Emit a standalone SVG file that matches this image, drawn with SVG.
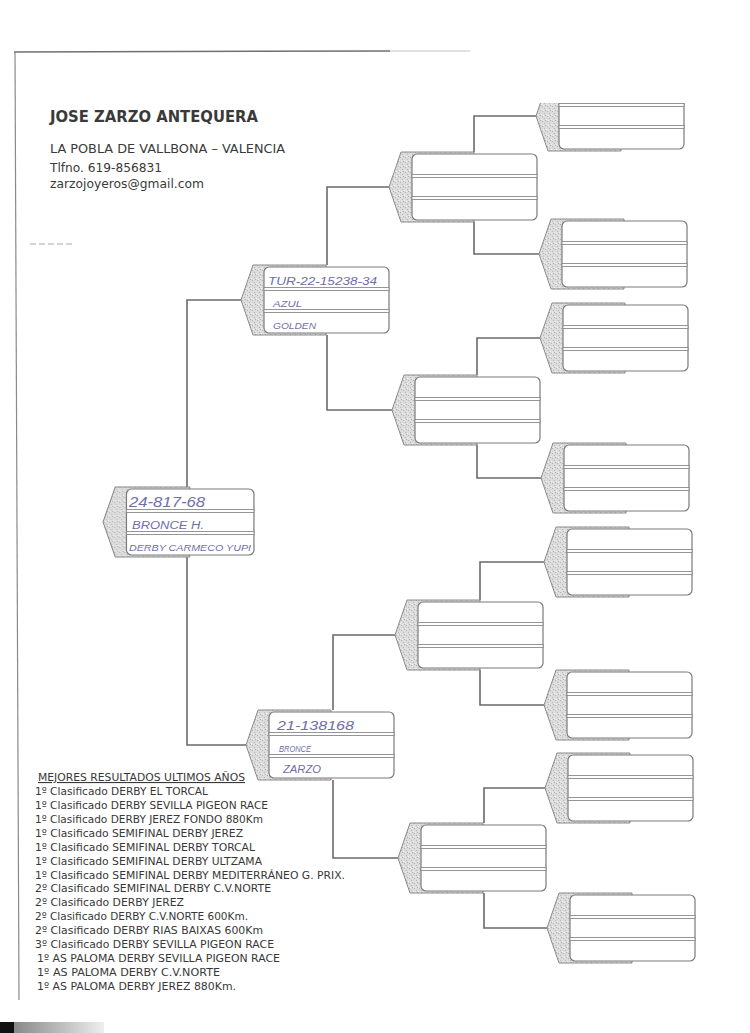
<svg xmlns="http://www.w3.org/2000/svg" xmlns:xlink="http://www.w3.org/1999/xlink" width="750" height="1033" viewBox="0 0 750 1033">
<style>
.conn{fill:none;stroke:#6a6a6a;stroke-width:1.6}
.back{stroke:#8a8a8a;stroke-width:1}
.box{fill:#fff;stroke:#7a7a7a;stroke-width:1.2}
.div{fill:#fff;stroke:#8a8a8a;stroke-width:0.9}
.hd{font-family:"DejaVu Sans","Liberation Sans",sans-serif;fill:#3a3a3a}
.ls{font-family:"DejaVu Sans","Liberation Sans",sans-serif;fill:#383838;font-size:11px}
.hw{font-family:"Liberation Sans",Arial,sans-serif;font-style:italic;fill:#6e6ea8}
</style>
<defs>
<pattern id="stip" width="5" height="5" patternUnits="userSpaceOnUse">
<rect width="5" height="5" fill="#dcdcdc"/>
<rect x="1" y="0" width="1" height="1" fill="#b4b4b4"/>
<rect x="3" y="2" width="1" height="1" fill="#b8b8b8"/>
<rect x="0" y="3" width="1" height="1" fill="#f0f0f0"/>
<rect x="4" y="4" width="1" height="1" fill="#b0b0b0"/>
<rect x="2" y="4" width="1" height="1" fill="#eeeeee"/>
</pattern>
<g id="nd">
<path class="back" fill="url(#stip)" d="M0,0 L12,-35 H85 V35 H12 Z"/>
<rect class="box" x="23" y="-33" width="125" height="66" rx="5"/>
<rect class="div" x="23" y="-12.5" width="125" height="3"/>
<rect class="div" x="23" y="9.5" width="125" height="3"/>
</g>
<clipPath id="clipTop"><rect x="480" y="103" width="270" height="100"/></clipPath>
<linearGradient id="bar" x1="0" x2="1" y1="0" y2="0">
<stop offset="0" stop-color="#888"/><stop offset="1" stop-color="#eee"/>
</linearGradient>
</defs>
<rect width="750" height="1033" fill="#fff"/>

<g id="frame">
<line x1="14" y1="52" x2="390" y2="51" stroke="#707070" stroke-width="1.5"/>
<line x1="390" y1="51" x2="470" y2="51" stroke="#c4c4c4" stroke-width="1"/>
<line x1="15" y1="52" x2="19" y2="1000" stroke="#8a8a8a" stroke-width="1.2"/>
<line x1="30" y1="244" x2="75" y2="244" stroke="#a8a8a8" stroke-width="1" stroke-dasharray="6,3"/>
<rect x="0" y="1022" width="14" height="11" fill="#111"/>
<rect x="14" y="1022" width="90" height="11" fill="url(#bar)"/>
</g>

<g id="header">
<text class="hd" x="50" y="122" font-size="15" font-weight="bold" textLength="208" lengthAdjust="spacingAndGlyphs">JOSE ZARZO ANTEQUERA</text>
<text class="hd" x="50" y="153" font-size="12" textLength="235" lengthAdjust="spacingAndGlyphs">LA POBLA DE VALLBONA – VALENCIA</text>
<text class="hd" x="50" y="172" font-size="12" textLength="112" lengthAdjust="spacingAndGlyphs">Tlfno. 619-856831</text>
<text class="hd" x="50" y="188" font-size="12" textLength="154" lengthAdjust="spacingAndGlyphs">zarzojoyeros@gmail.com</text>
</g>

<g id="connectors">
<path class="conn" d="M241,300 H187 V487"/>
<path class="conn" d="M187,557 V745 H246"/>
<path class="conn" d="M389,187 H327 V265"/>
<path class="conn" d="M327,335 V410 H392"/>
<path class="conn" d="M395,635 H333 V710"/>
<path class="conn" d="M333,780 V858 H398"/>
<path class="conn" d="M536,116 H474 V152"/>
<path class="conn" d="M474,222 V254 H539"/>
<path class="conn" d="M540,338 H477 V375"/>
<path class="conn" d="M477,445 V478 H541"/>
<path class="conn" d="M544,562 H480 V600"/>
<path class="conn" d="M480,670 V705 H544"/>
<path class="conn" d="M545,788 H484 V823"/>
<path class="conn" d="M484,893 V928 H547"/>
</g>

<g id="n1"><use xlink:href="#nd" href="#nd" transform="translate(103,522) scale(1.02,1)"/>
<text class="hw" x="129" y="507" font-size="14" textLength="76" lengthAdjust="spacingAndGlyphs">24-817-68</text>
<text class="hw" x="132" y="529" font-size="10" textLength="72" lengthAdjust="spacingAndGlyphs">BRONCE H.</text>
<text class="hw" x="129" y="551" font-size="9" textLength="122" lengthAdjust="spacingAndGlyphs">DERBY CARMECO YUPI</text>
</g>
<g id="n2"><use xlink:href="#nd" href="#nd" transform="translate(241,300)"/>
<text class="hw" x="268" y="285" font-size="11" textLength="109" lengthAdjust="spacingAndGlyphs">TUR-22-15238-34</text>
<text class="hw" x="273" y="307" font-size="9" textLength="29" lengthAdjust="spacingAndGlyphs">AZUL</text>
<text class="hw" x="273" y="329" font-size="9.5" textLength="43" lengthAdjust="spacingAndGlyphs">GOLDEN</text>
</g>
<g id="n3"><use xlink:href="#nd" href="#nd" transform="translate(246,745)"/>
<text class="hw" x="277" y="730" font-size="12" textLength="77" lengthAdjust="spacingAndGlyphs">21-138168</text>
<text class="hw" x="279" y="752" font-size="9" textLength="32" lengthAdjust="spacingAndGlyphs">BRONCE</text>
<text class="hw" x="283" y="773" font-size="10" textLength="38" lengthAdjust="spacingAndGlyphs">ZARZO</text>
</g>
<g id="n4"><use xlink:href="#nd" href="#nd" transform="translate(389,187)"/></g>
<g id="n5"><use xlink:href="#nd" href="#nd" transform="translate(392,410)"/></g>
<g id="n6"><use xlink:href="#nd" href="#nd" transform="translate(395,635)"/></g>
<g id="n7"><use xlink:href="#nd" href="#nd" transform="translate(398,858)"/></g>
<g id="n8" clip-path="url(#clipTop)"><use xlink:href="#nd" href="#nd" transform="translate(536,116)"/></g>
<g id="n9"><use xlink:href="#nd" href="#nd" transform="translate(539,254)"/></g>
<g id="n10"><use xlink:href="#nd" href="#nd" transform="translate(540,338)"/></g>
<g id="n11"><use xlink:href="#nd" href="#nd" transform="translate(541,478)"/></g>
<g id="n12"><use xlink:href="#nd" href="#nd" transform="translate(544,562)"/></g>
<g id="n13"><use xlink:href="#nd" href="#nd" transform="translate(544,705)"/></g>
<g id="n14"><use xlink:href="#nd" href="#nd" transform="translate(545,788)"/></g>
<g id="n15"><use xlink:href="#nd" href="#nd" transform="translate(547,928)"/></g>

<g id="results">
<text class="ls" x="38" y="781" textLength="207" lengthAdjust="spacingAndGlyphs" text-decoration="underline">MEJORES RESULTADOS ULTIMOS AÑOS</text>
<text class="ls" x="35" y="795" textLength="173" lengthAdjust="spacingAndGlyphs">1º Clasificado DERBY EL TORCAL</text>
<text class="ls" x="35" y="809" textLength="233" lengthAdjust="spacingAndGlyphs">1º Clasificado DERBY SEVILLA PIGEON RACE</text>
<text class="ls" x="35" y="823" textLength="228" lengthAdjust="spacingAndGlyphs">1º Clasificado DERBY JEREZ FONDO 880Km</text>
<text class="ls" x="35" y="837" textLength="208" lengthAdjust="spacingAndGlyphs">1º Clasificado SEMIFINAL DERBY JEREZ</text>
<text class="ls" x="35" y="851" textLength="220" lengthAdjust="spacingAndGlyphs">1º Clasificado SEMIFINAL DERBY TORCAL</text>
<text class="ls" x="35" y="865" textLength="227" lengthAdjust="spacingAndGlyphs">1º Clasificado SEMIFINAL DERBY ULTZAMA</text>
<text class="ls" x="35" y="879" textLength="310" lengthAdjust="spacingAndGlyphs">1º Clasificado SEMIFINAL DERBY MEDITERRÁNEO G. PRIX.</text>
<text class="ls" x="35" y="892" textLength="236" lengthAdjust="spacingAndGlyphs">2º Clasificado SEMIFINAL DERBY C.V.NORTE</text>
<text class="ls" x="35" y="906" textLength="149" lengthAdjust="spacingAndGlyphs">2º Clasificado DERBY JEREZ</text>
<text class="ls" x="35" y="920" textLength="213" lengthAdjust="spacingAndGlyphs">2º Clasificado DERBY C.V.NORTE 600Km.</text>
<text class="ls" x="35" y="934" textLength="228" lengthAdjust="spacingAndGlyphs">2º Clasificado DERBY RIAS BAIXAS 600Km</text>
<text class="ls" x="35" y="948" textLength="239" lengthAdjust="spacingAndGlyphs">3º Clasificado DERBY SEVILLA PIGEON RACE</text>
<text class="ls" x="37" y="962" textLength="243" lengthAdjust="spacingAndGlyphs">1º AS PALOMA DERBY SEVILLA PIGEON RACE</text>
<text class="ls" x="37" y="976" textLength="183" lengthAdjust="spacingAndGlyphs">1º AS PALOMA DERBY C.V.NORTE</text>
<text class="ls" x="37" y="990" textLength="199" lengthAdjust="spacingAndGlyphs">1º AS PALOMA DERBY JEREZ 880Km.</text>
</g>
</svg>
